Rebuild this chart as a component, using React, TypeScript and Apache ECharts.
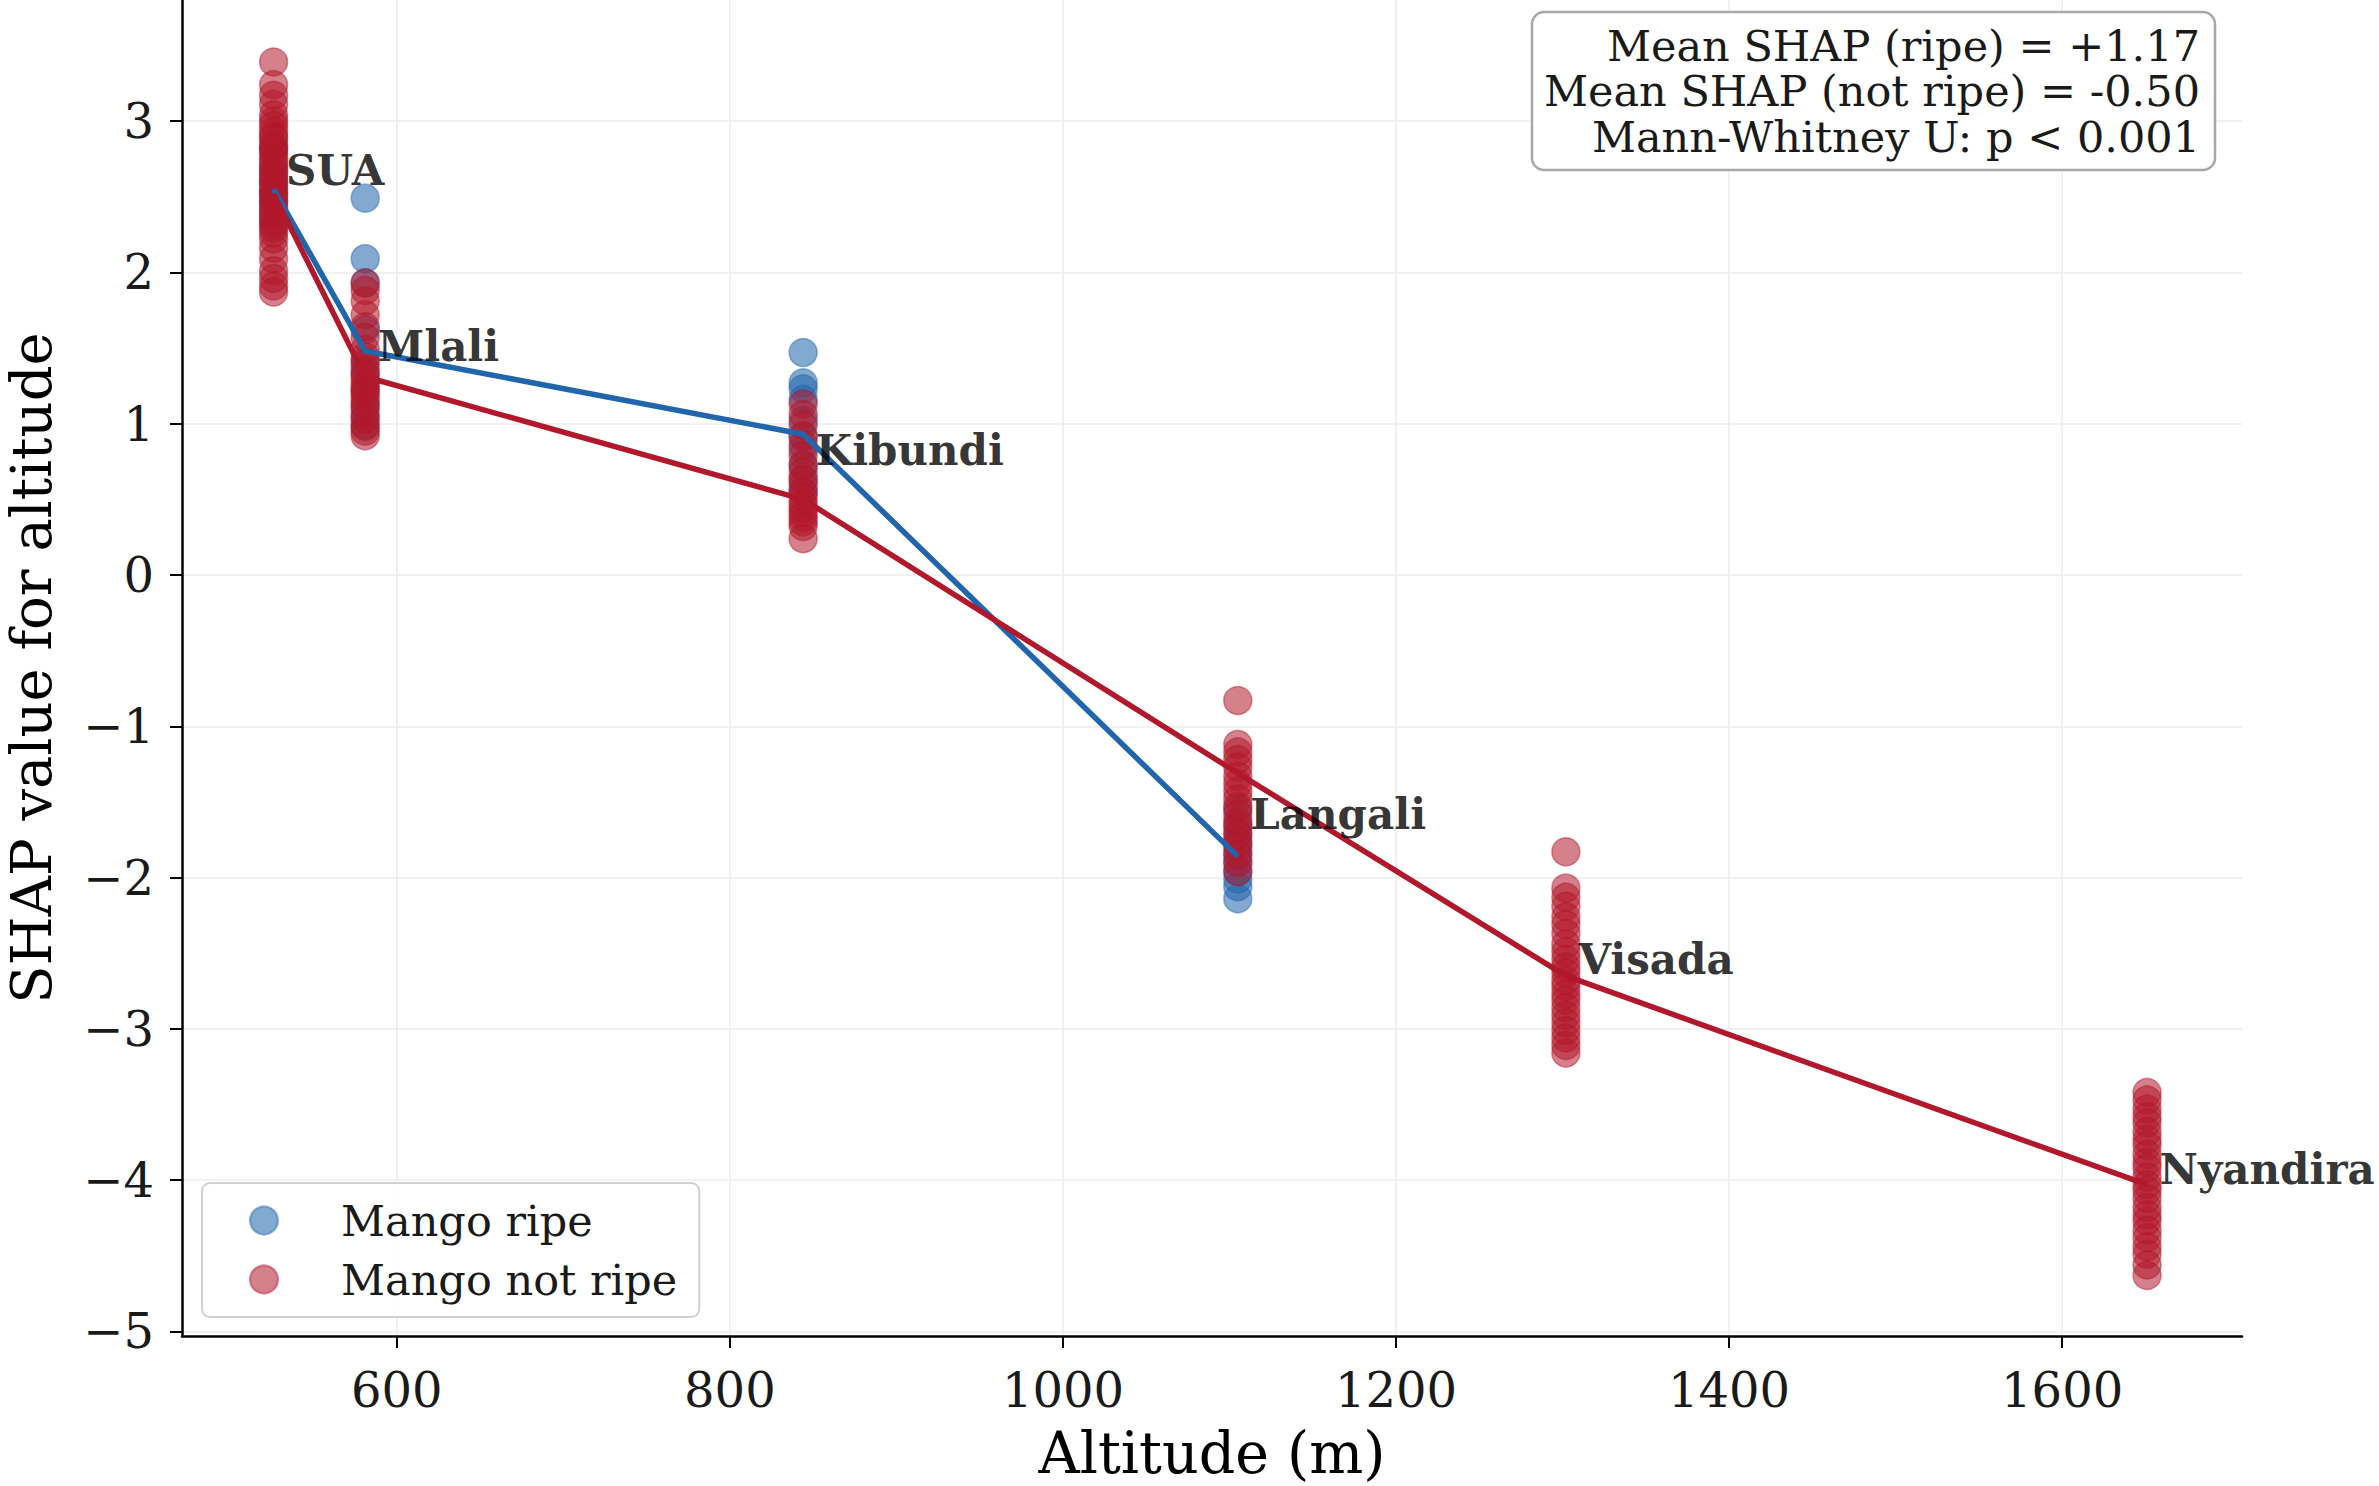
import { useEffect, useRef } from 'react';
import * as echarts from 'echarts';

const locations = ['SUA', 'Mlali', 'Kibundi', 'Langali', 'Visada', 'Nyandira'];
const altitudes = [526, 581, 844, 1105, 1302, 1651];

const ripeValues: number[][] = [
  [2.81, 2.68, 2.6, 2.52, 2.47, 2.39, 2.31],
  [2.49, 2.09, 1.93, 1.62, 1.41, 1.33, 1.22, 1.12, 1.04, 0.98],
  [1.47, 1.27, 1.23, 1.16, 1.02, 0.91, 0.83, 0.72, 0.63, 0.55],
  [-2.14, -2.06, -2.01, -1.96, -1.9, -1.84, -1.78, -1.72, -1.65, -1.55],
  [],
  [],
];

const notRipeValues: number[][] = [
  [3.39, 3.24, 3.17, 3.11, 3.04, 3.0, 2.97, 2.93, 2.9, 2.88, 2.84, 2.82, 2.79, 2.75, 2.73, 2.7, 2.66, 2.64, 2.61,
    2.58, 2.55, 2.53, 2.5, 2.47, 2.44, 2.42, 2.38, 2.35, 2.33, 2.29, 2.26, 2.22, 2.16, 2.09, 2.01, 1.96, 1.91, 1.87],
  [1.93, 1.88, 1.81, 1.72, 1.64, 1.57, 1.49, 1.44, 1.39, 1.35, 1.31, 1.27, 1.24, 1.21, 1.18, 1.15, 1.11, 1.07,
    1.03, 0.99, 0.95, 0.92],
  [1.13, 1.06, 0.99, 0.92, 0.86, 0.79, 0.73, 0.68, 0.63, 0.59, 0.55, 0.51, 0.47, 0.44, 0.41, 0.38, 0.35, 0.32, 0.24],
  [-0.83, -1.12, -1.17, -1.22, -1.27, -1.33, -1.38, -1.43, -1.48, -1.53, -1.58, -1.63, -1.67, -1.71, -1.76, -1.8,
    -1.85, -1.9, -1.96],
  [-1.83, -2.07, -2.13, -2.19, -2.26, -2.31, -2.37, -2.44, -2.49, -2.54, -2.59, -2.63, -2.68, -2.72, -2.77, -2.81,
    -2.86, -2.91, -2.96, -3.01, -3.06, -3.11, -3.16],
  [-3.42, -3.47, -3.53, -3.58, -3.62, -3.68, -3.73, -3.77, -3.83, -3.88, -3.92, -3.98, -4.03, -4.07, -4.12, -4.18,
    -4.23, -4.27, -4.33, -4.38, -4.44, -4.49, -4.56, -4.63],
];

const meanRipe = [2.55, 1.48, 0.93, -1.86];
const meanNotRipe = [2.52, 1.31, 0.5, -1.31, -2.65, -4.03];
const labelY = [2.67, 1.51, 0.82, -1.58, -2.54, -3.93];

const xTicks = [600, 800, 1000, 1200, 1400, 1600];
const yTicks = [-5, -4, -3, -2, -1, 0, 1, 2, 3];

const annotationLines = [
  'Mean SHAP (ripe) = +1.17',
  'Mean SHAP (not ripe) = -0.50',
  'Mann-Whitney U: p < 0.001',
];

const FONT = 'DejaVu Serif';
const BLUE = '#2166ac';
const RED = '#b2182b';

export default function App() {
  const ref = useRef<HTMLDivElement>(null);
  useEffect(() => {
    const chart = echarts.init(ref.current!, null, { renderer: 'svg' });
    const ripePts: number[][] = [];
    ripeValues.forEach((vals, i) => vals.forEach((v) => ripePts.push([altitudes[i], v])));
    const notRipePts: number[][] = [];
    notRipeValues.forEach((vals, i) => vals.forEach((v) => notRipePts.push([altitudes[i], v])));
    const ripeLine = meanRipe.map((v, i) => [altitudes[i], v]);
    const notRipeLine = meanNotRipe.map((v, i) => [altitudes[i], v]);
    const labelPts = locations.map((n, i) => [altitudes[i], labelY[i], n]);
    const fmtY = (v: number) => (v < 0 ? '\u2212' + Math.abs(v) : String(v));

    chart.setOption({
      animation: false,
      backgroundColor: '#fff',
      grid: { left: 182, right: 137, top: 0, bottom: 150, outerBoundsMode: 'none', containLabel: false },
      xAxis: {
        type: 'value',
        min: 471,
        max: 1708,
        name: 'Altitude (m)',
        nameLocation: 'middle',
        nameGap: 88,
        nameTextStyle: { fontFamily: FONT, fontSize: 57, color: '#000' },
        axisLine: { show: true, onZero: false, lineStyle: { color: '#000', width: 2.5 } },
        axisTick: { show: true, customValues: xTicks, length: 12, lineStyle: { color: '#000', width: 2 } },
        axisLabel: {
          customValues: xTicks,
          fontFamily: FONT,
          fontSize: 48,
          color: '#1a1a1a',
          margin: 30,
          formatter: (v: number) => String(v),
        },
        splitLine: { show: true, lineStyle: { color: '#ececec', width: 1.5 } },
      },
      yAxis: {
        type: 'value',
        min: -5.03,
        max: 3.8,
        name: 'SHAP value for altitude',
        nameLocation: 'middle',
        nameGap: 123,
        nameTextStyle: { fontFamily: FONT, fontSize: 56, color: '#000' },
        axisLine: { show: true, onZero: false, lineStyle: { color: '#000', width: 2.5 } },
        axisTick: { show: true, customValues: yTicks, length: 12, lineStyle: { color: '#000', width: 2 } },
        axisLabel: {
          customValues: yTicks,
          fontFamily: FONT,
          fontSize: 48,
          color: '#1a1a1a',
          margin: 28,
          formatter: fmtY,
        },
        splitLine: { show: true, lineStyle: { color: '#ececec', width: 1.5 } },
      },
      legend: {
        data: ['Mango ripe', 'Mango not ripe'],
        orient: 'vertical',
        left: 202,
        top: 1183,
        padding: [16, 22, 16, 47],
        itemWidth: 28,
        itemHeight: 28,
        itemGap: 16,
        backgroundColor: 'rgba(255,255,255,0.9)',
        borderColor: '#d0d0d0',
        borderWidth: 2,
        borderRadius: 8,
        textStyle: { fontFamily: FONT, fontSize: 43, color: '#1a1a1a', padding: [0, 0, 0, 58] },
      },
      graphic: [
        {
          type: 'rect',
          shape: { x: 1532, y: 12, width: 683, height: 158, r: 12 },
          style: { fill: '#fff', stroke: '#a8a8a8', lineWidth: 2.5 },
          z: 100,
        },
        ...annotationLines.map((t, i) => ({
          type: 'text',
          x: 2200,
          y: 45.5 + i * 45.5,
          z: 101,
          style: {
            text: t,
            fontFamily: FONT,
            fontSize: 43,
            fill: '#1a1a1a',
            align: 'right',
            verticalAlign: 'middle',
          },
        })),
      ],
      series: [
        {
          name: 'Mango ripe',
          type: 'scatter',
          data: ripePts,
          symbol: 'circle',
          symbolSize: 28,
          itemStyle: { color: 'rgba(33,102,172,0.7)', borderColor: 'rgba(33,102,172,0.6)', borderWidth: 1.5 },
          z: 2,
        },
        {
          name: 'Mango not ripe',
          type: 'scatter',
          data: notRipePts,
          symbol: 'circle',
          symbolSize: 28,
          itemStyle: { color: 'rgba(178,24,43,0.68)', borderColor: 'rgba(178,24,43,0.6)', borderWidth: 1.5 },
          z: 3,
        },
        {
          name: 'ripeMean',
          type: 'line',
          data: ripeLine,
          symbol: 'none',
          lineStyle: { color: BLUE, width: 5.5 },
          z: 4,
          silent: true,
        },
        {
          name: 'notRipeMean',
          type: 'line',
          data: notRipeLine,
          symbol: 'none',
          lineStyle: { color: RED, width: 5.5 },
          z: 5,
          silent: true,
        },
        {
          name: 'labels',
          type: 'scatter',
          data: labelPts,
          symbolSize: 1,
          itemStyle: { color: 'rgba(0,0,0,0)' },
          silent: true,
          z: 6,
          label: {
            show: true,
            position: 'right',
            distance: 12,
            formatter: (p: any) => p.data[2],
            fontFamily: FONT,
            fontWeight: 'bold',
            fontSize: 42,
            color: '#000',
          },
        },
      ],
    });
    return () => chart.dispose();
  }, []);
  return (
    <div
      ref={ref}
      style={{ position: 'fixed', left: 0, top: 0, width: 2379, height: 1486, background: '#fff' }}
    />
  );
}
